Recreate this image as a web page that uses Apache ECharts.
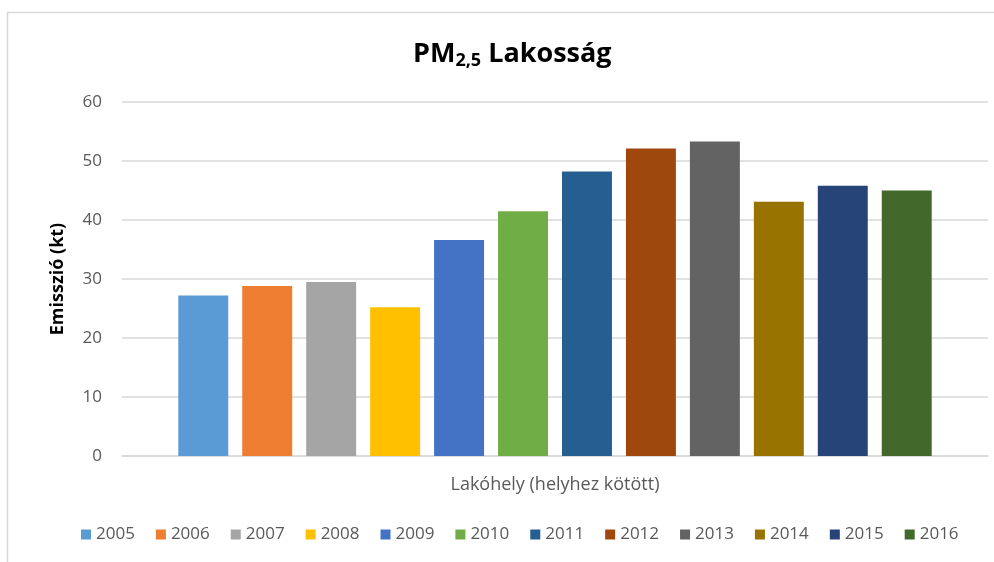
<!DOCTYPE html>
<html>
<head>
<meta charset="utf-8">
<script src="https://cdn.jsdelivr.net/npm/echarts@6/dist/echarts.min.js"></script>
<style>
  html, body { margin: 0; padding: 0; background: #fff; }
  #chart { width: 994px; height: 562px; }
</style>
</head>
<body>
<div id="chart"></div>
<script>
var categories = ['Lakóhely (helyhez kötött)'];
var years = ['2005', '2006', '2007', '2008', '2009', '2010', '2011', '2012', '2013', '2014', '2015', '2016'];
var values = [27.2, 28.8, 29.5, 25.2, 36.6, 41.5, 48.2, 52.1, 53.3, 43.1, 45.8, 45.0];
var colors = ['#5b9bd5', '#ed7d31', '#a5a5a5', '#ffc000', '#4472c4', '#70ad47',
              '#255e91', '#9e480e', '#636363', '#997300', '#264478', '#43682b'];
var yTicks = [0, 10, 20, 30, 40, 50, 60];

var font = 'Open Sans';
var chart = echarts.init(document.getElementById('chart'));

var series = years.map(function (y, i) {
    return {
        name: y,
        type: 'bar',
        data: [values[i]],
        barGap: '28%',
        barCategoryGap: '13%',
        itemStyle: { color: colors[i] }
    };
});

var option = {
    animation: false,
    color: colors,
    title: {
        text: '{a|PM}{s|2,5}{a| Lakosság}',
        left: 408,
        top: 33,
        textStyle: {
            rich: {
                a: { fontFamily: font, fontSize: 27, fontWeight: 'bold', color: '#000' },
                s: { fontFamily: font, fontSize: 18, fontWeight: 'bold', color: '#000', verticalAlign: 'bottom', padding: [14, 0, 0, 0] }
            }
        }
    },
    graphic: [{
        type: 'rect',
        shape: { x: 7.5, y: 12.5, width: 1000, height: 600 },
        style: { fill: 'none', stroke: '#d9d9d9', lineWidth: 1.5 },
        silent: true
    }],
    legend: {
        data: years,
        bottom: 14,
        left: 76,
        itemWidth: 10,
        itemHeight: 10,
        itemGap: 21,
        icon: 'rect',
        textStyle: { fontFamily: font, fontSize: 17, color: '#595959' }
    },
    grid: { left: 122, right: 6, top: 102, bottom: 106 },
    xAxis: {
        type: 'category',
        data: categories,
        axisTick: { show: false },
        axisLine: { lineStyle: { color: '#d9d9d9', width: 1.5 } },
        axisLabel: { fontFamily: font, fontSize: 18, color: '#595959', margin: 20 }
    },
    yAxis: {
        type: 'value',
        min: yTicks[0],
        max: yTicks[yTicks.length - 1],
        interval: 10,
        name: 'Emisszió (kt)',
        nameLocation: 'middle',
        nameGap: 55,
        nameTextStyle: { fontFamily: font, fontSize: 18, fontWeight: 'bold', color: '#000' },
        axisLine: { show: false },
        axisTick: { show: false },
        axisLabel: { fontFamily: font, fontSize: 17, color: '#595959', margin: 20 },
        splitLine: { lineStyle: { color: '#d9d9d9', width: 1.5 } }
    },
    series: series
};
chart.setOption(option);
</script>
</body>
</html>
